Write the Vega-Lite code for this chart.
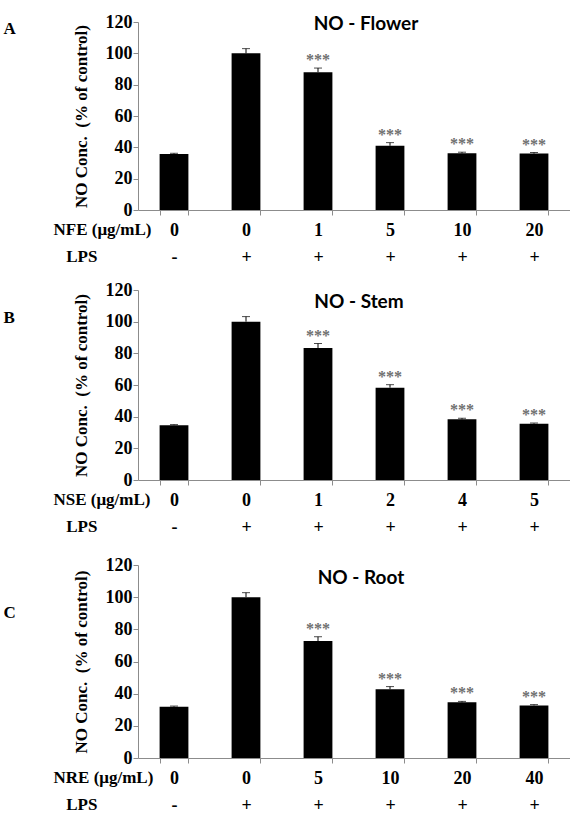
{
  "$schema": "https://vega.github.io/schema/vega-lite/v6.json",
  "background": "white",
  "padding": {"top": 13, "left": 3, "right": 0, "bottom": 0},
  "datasets": {
    "flowerData": [
      {"group": "0|-", "no": 35.8, "hi": 36.2, "sig": ""},
      {"group": "0|+", "no": 100, "hi": 103, "sig": ""},
      {"group": "1|+", "no": 88, "hi": 90.6, "sig": "***"},
      {"group": "5|+", "no": 41, "hi": 43, "sig": "***"},
      {"group": "10|+", "no": 36.2, "hi": 36.9, "sig": "***"},
      {"group": "20|+", "no": 36, "hi": 36.7, "sig": "***"}
    ],
    "stemData": [
      {"group": "0|-", "no": 34.6, "hi": 35, "sig": ""},
      {"group": "0|+", "no": 100, "hi": 103.2, "sig": ""},
      {"group": "1|+", "no": 83.4, "hi": 86.2, "sig": "***"},
      {"group": "2|+", "no": 58.3, "hi": 60.2, "sig": "***"},
      {"group": "4|+", "no": 38.3, "hi": 39, "sig": "***"},
      {"group": "5|+", "no": 35.6, "hi": 36, "sig": "***"}
    ],
    "rootData": [
      {"group": "0|-", "no": 31.9, "hi": 32.3, "sig": ""},
      {"group": "0|+", "no": 100, "hi": 102.8, "sig": ""},
      {"group": "5|+", "no": 72.7, "hi": 75.4, "sig": "***"},
      {"group": "10|+", "no": 42.7, "hi": 44.4, "sig": "***"},
      {"group": "20|+", "no": 34.6, "hi": 35.2, "sig": "***"},
      {"group": "40|+", "no": 32.7, "hi": 33.2, "sig": "***"}
    ]
  },
  "config": {
    "view": {"stroke": null},
    "axis": {
      "labelFont": "Liberation Serif",
      "labelFontWeight": "bold",
      "labelFontSize": 18,
      "labelColor": "black",
      "labelOverlap": false,
      "titleFont": "Liberation Serif",
      "titleFontWeight": "bold",
      "titleFontSize": 17,
      "titleColor": "black",
      "domainColor": "#8c8c8c",
      "tickColor": "#8c8c8c",
      "grid": false
    },
    "axisY": {"tickCount": 7},
    "title": {
      "font": "Lato",
      "fontSize": 19,
      "fontWeight": "bold",
      "color": "black",
      "anchor": "middle",
      "frame": "group",
      "baseline": "middle"
    }
  },
  "spacing": 19,
  "vconcat": [
    {
      "spacing": 14,
      "vconcat": [
        {
          "data": {"name": "flowerData"},
          "title": {"text": "NO - Flower", "offset": -21, "dx": 12},
          "width": 432,
          "height": 188,
          "layer": [
            {
              "encoding": {
                "x": {
                  "field": "group", "type": "nominal", "sort": null,
                  "scale": {"paddingInner": 0.6, "paddingOuter": 0.3},
                  "axis": {
                    "labelAngle": 0, "tickBand": "extent", "tickSize": 5,
                    "labelExpr": "isValid(datum.value) ? split(datum.value, '|') : ''",
                    "labelBaseline": "top", "labelLineHeight": 27.7, "labelPadding": 6,
                    "title": ["NFE (μg/mL)", "\u200b\u00a0\u00a0\u00a0LPS"],
                    "titleAlign": "left", "titleBaseline": "top", "titleLineHeight": 27.7,
                    "titleX": -85, "titleY": 11
                  }
                }
              },
              "layer": [
                {
                  "mark": {"type": "bar", "color": "black"},
                  "encoding": {
                    "y": {
                      "field": "no", "type": "quantitative",
                      "scale": {"domain": [0, 120], "nice": false},
                      "axis": {"values": [0, 20, 40, 60, 80, 100, 120], "tickSize": 5, "labelPadding": 1, "titlePadding": 15, "title": "NO Conc.\u00a0 (% of control)"}
                    }
                  }
                },
                {
                  "mark": {"type": "rule", "color": "black", "strokeWidth": 1},
                  "encoding": {"y": {"field": "no", "type": "quantitative"}, "y2": {"field": "hi"}}
                },
                {
                  "mark": {"type": "tick", "color": "black", "size": 8, "thickness": 1},
                  "encoding": {"y": {"field": "hi", "type": "quantitative"}}
                }
              ]
            },
            {
              "mark": {"type": "text", "font": "Liberation Serif", "fontWeight": "bold", "fontSize": 16, "color": "#707070", "baseline": "alphabetic", "dy": -3},
              "encoding": {
                "x": {
                  "field": "group", "type": "nominal", "sort": null,
                  "axis": {"orient": "top", "domain": false, "ticks": false, "labels": false, "title": "A", "titleAngle": 0, "titleAlign": "left", "titleBaseline": "middle", "titleFontSize": 17, "titleX": -135, "titleY": 6}
                },
                "y": {"field": "hi", "type": "quantitative"},
                "text": {"field": "sig"}
              }
            }
          ],
          "resolve": {"axis": {"x": "independent"}}
        },
        {
          "data": {"name": "stemData"},
          "title": {"text": "NO - Stem", "offset": -31, "dx": 5},
          "width": 432,
          "height": 190,
          "layer": [
            {
              "encoding": {
                "x": {
                  "field": "group", "type": "nominal", "sort": null,
                  "scale": {"paddingInner": 0.6, "paddingOuter": 0.3},
                  "axis": {
                    "labelAngle": 0, "tickBand": "extent", "tickSize": 5,
                    "labelExpr": "isValid(datum.value) ? split(datum.value, '|') : ''",
                    "labelBaseline": "top", "labelLineHeight": 27.7, "labelPadding": 6,
                    "title": ["NSE (μg/mL)", "\u200b\u00a0\u00a0\u00a0LPS"],
                    "titleAlign": "left", "titleBaseline": "top", "titleLineHeight": 27.7,
                    "titleX": -85, "titleY": 11
                  }
                }
              },
              "layer": [
                {
                  "mark": {"type": "bar", "color": "black"},
                  "encoding": {
                    "y": {
                      "field": "no", "type": "quantitative",
                      "scale": {"domain": [0, 120], "nice": false},
                      "axis": {"values": [0, 20, 40, 60, 80, 100, 120], "tickSize": 5, "labelPadding": 1, "titlePadding": 15, "title": "NO Conc.\u00a0 (% of control)"}
                    }
                  }
                },
                {
                  "mark": {"type": "rule", "color": "black", "strokeWidth": 1},
                  "encoding": {"y": {"field": "no", "type": "quantitative"}, "y2": {"field": "hi"}}
                },
                {
                  "mark": {"type": "tick", "color": "black", "size": 8, "thickness": 1},
                  "encoding": {"y": {"field": "hi", "type": "quantitative"}}
                }
              ]
            },
            {
              "mark": {"type": "text", "font": "Liberation Serif", "fontWeight": "bold", "fontSize": 16, "color": "#707070", "baseline": "alphabetic", "dy": -3},
              "encoding": {
                "x": {
                  "field": "group", "type": "nominal", "sort": null,
                  "axis": {"orient": "top", "domain": false, "ticks": false, "labels": false, "title": "B", "titleAngle": 0, "titleAlign": "left", "titleBaseline": "middle", "titleFontSize": 17, "titleX": -135, "titleY": 27}
                },
                "y": {"field": "hi", "type": "quantitative"},
                "text": {"field": "sig"}
              }
            }
          ],
          "resolve": {"axis": {"x": "independent"}}
        }
      ]
    },
    {
      "data": {"name": "rootData"},
      "title": {"text": "NO - Root", "offset": -32, "dx": 7},
      "width": 432,
      "height": 193,
      "layer": [
        {
          "encoding": {
            "x": {
              "field": "group", "type": "nominal", "sort": null,
              "scale": {"paddingInner": 0.6, "paddingOuter": 0.3},
              "axis": {
                "labelAngle": 0, "tickBand": "extent", "tickSize": 5,
                "labelExpr": "isValid(datum.value) ? split(datum.value, '|') : ''",
                "labelBaseline": "top", "labelLineHeight": 27.7, "labelPadding": 6,
                "title": ["NRE (μg/mL)", "\u200b\u00a0\u00a0\u00a0LPS"],
                "titleAlign": "left", "titleBaseline": "top", "titleLineHeight": 27.7,
                "titleX": -85, "titleY": 11
              }
            }
          },
          "layer": [
            {
              "mark": {"type": "bar", "color": "black"},
              "encoding": {
                "y": {
                  "field": "no", "type": "quantitative",
                  "scale": {"domain": [0, 120], "nice": false},
                  "axis": {"values": [0, 20, 40, 60, 80, 100, 120], "tickSize": 5, "labelPadding": 1, "titlePadding": 15, "title": "NO Conc.\u00a0 (% of control)"}
                }
              }
            },
            {
              "mark": {"type": "rule", "color": "black", "strokeWidth": 1},
              "encoding": {"y": {"field": "no", "type": "quantitative"}, "y2": {"field": "hi"}}
            },
            {
              "mark": {"type": "tick", "color": "black", "size": 8, "thickness": 1},
              "encoding": {"y": {"field": "hi", "type": "quantitative"}}
            }
          ]
        },
        {
          "mark": {"type": "text", "font": "Liberation Serif", "fontWeight": "bold", "fontSize": 16, "color": "#707070", "baseline": "alphabetic", "dy": -3},
          "encoding": {
            "x": {
              "field": "group", "type": "nominal", "sort": null,
              "axis": {"orient": "top", "domain": false, "ticks": false, "labels": false, "title": "C", "titleAngle": 0, "titleAlign": "left", "titleBaseline": "middle", "titleFontSize": 17, "titleX": -135, "titleY": 47}
            },
            "y": {"field": "hi", "type": "quantitative"},
            "text": {"field": "sig"}
          }
        }
      ],
      "resolve": {"axis": {"x": "independent"}}
    }
  ]
}
